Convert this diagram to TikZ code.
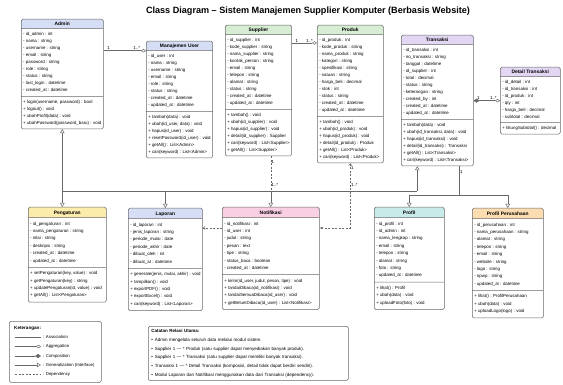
\documentclass[tikz,border=0pt]{standalone}
\usepackage{fontspec}
\setmainfont{Liberation Sans}
\usetikzlibrary{shapes.multipart,arrows.meta,positioning}

\definecolor{abu}{RGB}{105,105,105}
\definecolor{biru}{RGB}{214,222,245}
\definecolor{hijau}{RGB}{214,236,211}
\definecolor{ungu}{RGB}{226,214,243}
\definecolor{kuning}{RGB}{252,236,172}
\definecolor{pink}{RGB}{248,207,227}
\definecolor{toska}{RGB}{200,235,233}
\definecolor{oranye}{RGB}{252,221,178}

\newcommand{\kop}[1]{\raisebox{-1.7pt}[1pt][1pt]{\fontsize{4.9}{5}\selectfont\bfseries #1}}

\tikzset{
  kelas/.style={rectangle split, rectangle split parts=3,
    rectangle split part align={center,left,left},
    rectangle split part fill={#1,white},
    draw=abu, line width=0.5pt, rounded corners=1.5pt,
    inner xsep=2pt, inner ysep=3.5pt, align=left, anchor=north west,
    font=\fontsize{4.4}{7}\selectfont},
  kelasb/.style={kelas=#1, inner ysep=4pt, font=\fontsize{4.4}{7.4}\selectfont},
  hub/.style={draw=abu, line width=0.5pt},
  gen/.style={hub, -{Triangle[open, length=4pt, width=4.5pt]}},
  agg/.style={hub, -{Diamond[open, length=5pt, width=3.5pt]}},
  komp/.style={hub, {Diamond[length=6pt, width=4pt]}-{Diamond[open, length=5pt, width=3.5pt]}},
  dep/.style={hub, dash pattern=on 2pt off 1.5pt},
  mult/.style={font=\fontsize{4.4}{5}\selectfont, inner sep=0.6pt},
  lgd/.style={font=\fontsize{4.3}{5}\selectfont, inner sep=0pt, anchor=west}
}

\begin{document}
\begin{tikzpicture}[x=1pt,y=-1pt]
\useasboundingbox (0,0) rectangle (563,385);

\node[font=\fontsize{9.1}{11}\selectfont\bfseries] (judul) at (308,11)
  {Class Diagram – Sistem Manajemen Supplier Komputer (Berbasis Website)};

\node[kelas=biru, minimum width=82pt] (admin) at (21,19) {\kop{Admin}
\nodepart{two}- id\_admin : int\\- nama : string\\- username : string\\- email : string\\- password : string\\- role : string\\- status : string\\- last\_login : datetime\\- created\_at : datetime
\nodepart{three}+ login(username, password) : bool\\+ logout() : void\\+ ubahProfil(data) : void\\+ ubahPassword(password\_baru) : void};

\node[kelas=biru, minimum width=63pt] (mu) at (146,41) {\kop{Manajemen User}
\nodepart{two}- id\_user : int\\- nama : string\\- username : string\\- email : string\\- role : string\\- status : string\\- created\_at : datetime\\- updated\_at : datetime
\nodepart{three}+ tambah(data) : void\\+ ubah(id\_user, data) : void\\+ hapus(id\_user) : void\\+ resetPassword(id\_user) : void\\+ getAll() : List<Admin>\\+ cari(keyword) : List<Admin>};

\node[kelas=hijau, minimum width=66pt] (supplier) at (225,25) {\kop{Supplier}
\nodepart{two}- id\_supplier : int\\- kode\_supplier : string\\- nama\_supplier : string\\- kontak\_person : string\\- email : string\\- telepon : string\\- alamat : string\\- status : string\\- created\_at : datetime\\- updated\_at : datetime
\nodepart{three}+ tambah() : void\\+ ubah(id\_supplier) : void\\+ hapus(id\_supplier) : void\\+ detail(id\_supplier) : Supplier\\+ cari(keyword) : List<Supplier>\\+ getAll() : List<Supplier>};

\node[kelas=hijau, minimum width=66pt] (produk) at (317,25) {\kop{Produk}
\nodepart{two}- id\_produk : int\\- kode\_produk : string\\- nama\_produk : string\\- kategori : string\\- spesifikasi : string\\- satuan : string\\- harga\_beli : decimal\\- stok : int\\- status : string\\- created\_at : datetime\\- updated\_at : datetime
\nodepart{three}+ tambah() : void\\+ ubah(id\_produk) : void\\+ hapus(id\_produk) : void\\+ detail(id\_produk) : Produk\\+ getAll() : List<Produk>\\+ cari(keyword) : List<Produk>};

\node[kelas=ungu, minimum width=72pt] (transaksi) at (401,35) {\kop{Transaksi}
\nodepart{two}- id\_transaksi : int\\- no\_transaksi : string\\- tanggal : datetime\\- id\_supplier : int\\- total : decimal\\- status : string\\- keterangan : string\\- created\_by : int\\- created\_at : datetime\\- updated\_at : datetime
\nodepart{three}+ tambah(data) : void\\+ ubah(id\_transaksi, data) : void\\+ hapus(id\_transaksi) : void\\+ detail(id\_transaksi) : Transaksi\\+ getAll() : List<Transaksi>\\+ cari(keyword) : List<Transaksi>};

\node[kelas=ungu, minimum width=60pt] (detail) at (500,67) {\kop{Detail Transaksi}
\nodepart{two}- id\_detail : int\\- id\_transaksi : int\\- id\_produk : int\\- qty : int\\- harga\_beli : decimal\\- subtotal : decimal
\nodepart{three}+ hitungSubtotal() : decimal};

\node[kelasb=kuning, minimum width=78pt] (pengaturan) at (28,207) {\kop{Pengaturan}
\nodepart{two}- id\_pengaturan : int\\- nama\_pengaturan : string\\- nilai : string\\- deskripsi : string\\- created\_at : datetime\\- updated\_at : datetime
\nodepart{three}+ setPengaturan(key, value) : void\\+ getPengaturan(key) : string\\+ updatePengaturan(id, value) : void\\+ getAll() : List<Pengaturan>};

\node[kelasb=biru, minimum width=69pt] (laporan) at (128,208) {\kop{Laporan}
\nodepart{two}- id\_laporan : int\\- jenis\_laporan : string\\- periode\_mulai : date\\- periode\_akhir : date\\- dibuat\_oleh : int\\- dibuat\_at : datetime
\nodepart{three}+ generate(jenis, mulai, akhir) : void\\+ tampilkan() : void\\+ exportPDF() : void\\+ exportExcel() : void\\+ cari(keyword) : List<Laporan>};

\node[kelasb=pink, minimum width=97pt] (notifikasi) at (222,207) {\kop{Notifikasi}
\nodepart{two}- id\_notifikasi : int\\- id\_user : int\\- judul : string\\- pesan : text\\- tipe : string\\- status\_baca : boolean\\- created\_at : datetime
\nodepart{three}+ kirim(id\_user, judul, pesan, tipe) : void\\+ tandaiDibaca(id\_notifikasi) : void\\+ tandaiSemuaDibaca(id\_user) : void\\+ getBelumDibaca(id\_user) : List<Notifikasi>};

\node[kelasb=toska, minimum width=70pt] (profil) at (374,207) {\kop{Profil}
\nodepart{two}- id\_profil : int\\- id\_admin : int\\- nama\_lengkap : string\\- email : string\\- telepon : string\\- alamat : string\\- foto : string\\- updated\_at : datetime
\nodepart{three}+ lihat() : Profil\\+ ubah(data) : void\\+ uploadFoto(foto) : void};

\node[kelasb=oranye, minimum width=71pt] (profilp) at (472,208) {\kop{Profil Perusahaan}
\nodepart{two}- id\_perusahaan : int\\- nama\_perusahaan : string\\- alamat : string\\- telepon : string\\- email : string\\- website : string\\- logo : string\\- npwp : string\\- updated\_at : datetime
\nodepart{three}+ lihat() : ProfilPerusahaan\\+ ubah(data) : void\\+ uploadLogo(logo) : void};

\coordinate (bus) at (0,191);
\coordinate (bus2) at (0,195);
\coordinate (dep) at (0,228);
\coordinate (sp) at (0,43);
\coordinate (tg) at ([xshift=-20pt]transaksi.south);
\coordinate (tr) at ([xshift=22pt]transaksi.south);

\draw[agg] (admin.east |- mu.text split west) -- node[mult, above, pos=0.12] (m1) {1} node[mult, above, pos=0.78] (m2) {1..*} (mu.text split west);
\draw[agg] (supplier.east |- sp) -- node[mult, above, pos=0.2] (m3) {1} node[mult, above, pos=0.7] (m4) {1..*} (produk.west |- sp);
\draw[komp] (transaksi.east |- detail.west) -- node[mult, above, pos=0.18] (m5) {1} node[mult, above, pos=0.75] (m6) {1..*} (detail.west);

\draw[gen] (admin.south |- bus) -- (admin.south);
\draw[hub] (admin.south |- bus) -- (tg |- bus);
\draw[gen] (tg |- bus) -- (tg);
\draw[gen] (admin.south |- bus) -- (admin.south |- pengaturan.north);
\draw[gen] (laporan.north |- bus) -- (laporan.north);
\draw[gen] (notifikasi.north |- bus) -- (notifikasi.north);

\draw[dep] (notifikasi.north |- supplier.south) -- node[mult, right, pos=0.18] (m7) {1} node[mult, right, pos=0.82] (m8) {1..*} (notifikasi.north |- bus);
\draw[dep, {Straight Barb[length=2pt, width=3pt]}-{Latex[length=3pt, width=2.5pt]}] (produk.south) -- node[mult, right, pos=0.08] (m9) {1} node[mult, right, pos=0.33] (m10) {1..*} (produk.south |- dep) -- (notifikasi.east |- dep);
\draw[dep, -{Straight Barb[length=2pt, width=3pt]}] (notifikasi.west |- dep) -- (laporan.east |- dep);

\draw[hub] (tr) -- node[mult, right, pos=0.2] (m11) {1} (tr |- bus2);
\draw[hub] (profil.north |- bus2) -- (profilp.north |- bus2);
\draw[gen] (profil.north |- bus2) -- (profil.north);
\draw[gen] (profilp.north |- bus2) -- (profilp.north);

\node[draw=abu, line width=0.5pt, rounded corners=1.5pt, minimum width=92pt, minimum height=61pt, inner sep=0pt, anchor=north west] (ket) at (9,321) {};
\node[lgd, font=\fontsize{4.6}{5}\selectfont\bfseries] (ketj) at (14,328) {Keterangan:};
\node[lgd] (l1) at (43,337) {: Association};
\node[lgd] (l2) at (43,346.5) {: Aggregation};
\node[lgd] (l3) at (43,356) {: Composition};
\node[lgd] (l4) at (43,365) {: Generalization (Interface)};
\node[lgd] (l5) at (43,374) {: Dependency};
\draw[hub] ([xshift=-28pt]l1.west) -- ([xshift=-2pt]l1.west);
\draw[agg] ([xshift=-28pt]l2.west) -- ([xshift=-2pt]l2.west);
\draw[hub, -{Diamond[length=6pt, width=4pt]}] ([xshift=-28pt]l3.west) -- ([xshift=-2pt]l3.west);
\draw[gen] ([xshift=-28pt]l4.west) -- ([xshift=-2pt]l4.west);
\draw[dep] ([xshift=-28pt]l5.west) -- ([xshift=-2pt]l5.west);

\node[draw=abu, line width=0.5pt, rounded corners=1.5pt, anchor=north west, text width=194pt, inner xsep=3pt, inner ysep=3pt, align=left, font=\fontsize{4.5}{8.8}\selectfont] (catatan) at (148,326)
  {{\bfseries Catatan Relasi Utama:}\\
  •\hspace{2pt}Admin mengelola seluruh data melalui modul sistem.\\
  •\hspace{2pt}Supplier 1 — * Produk (satu supplier dapat menyediakan banyak produk).\\
  •\hspace{2pt}Supplier 1 — * Transaksi (satu supplier dapat memiliki banyak transaksi).\\
  •\hspace{2pt}Transaksi 1 — * Detail Transaksi (komposisi, detail tidak dapat berdiri sendiri).\\
  •\hspace{2pt}Modul Laporan dan Notifikasi menggunakan data dari Transaksi (dependency).};
\end{tikzpicture}
\end{document}
